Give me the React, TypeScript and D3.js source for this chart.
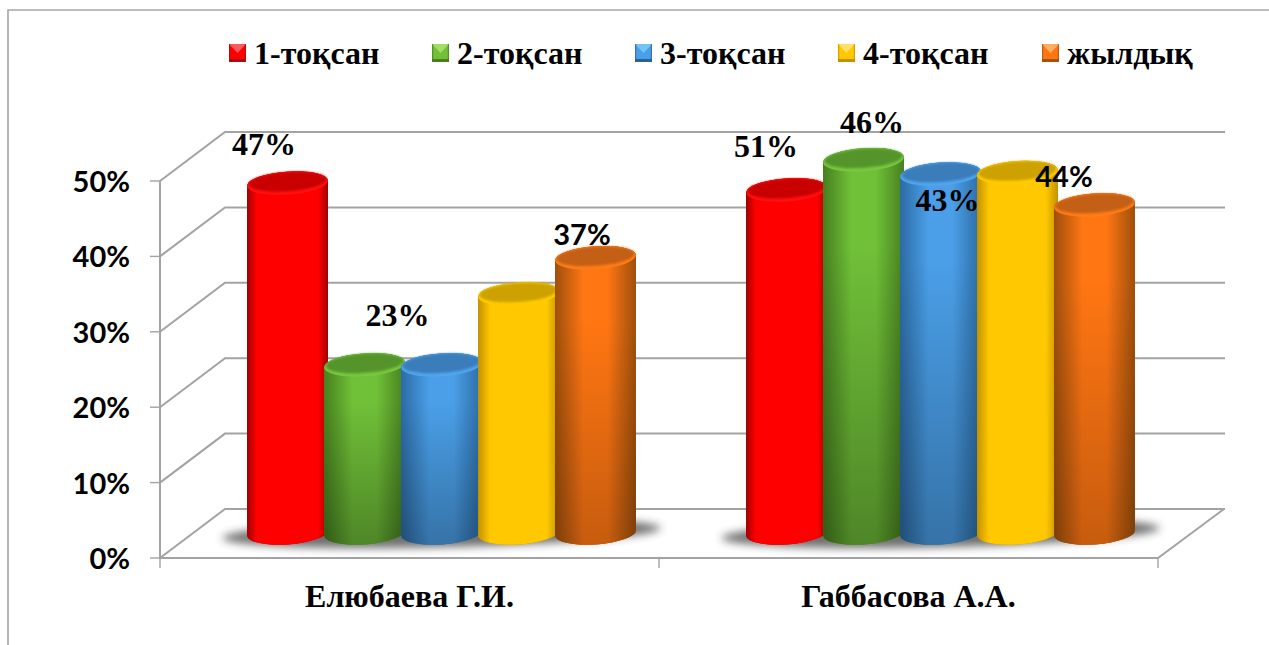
import React from "react";
import * as d3 from "d3";

const categories = ["Елюбаева Г.И.", "Габбасова А.А."];
const seriesNames = ["1-тоқсан", "2-тоқсан", "3-тоқсан", "4-тоқсан", "жылдық"];
const group1Values = [0.464, 0.223, 0.223, 0.317, 0.365];
const group2Values = [0.455, 0.495, 0.476, 0.478, 0.435];
const group1Labels = ["47%", "23%", "", "", "37%"];
const group2Labels = ["51%", "46%", "43%", "", "44%"];
const yTicks = [0, 0.1, 0.2, 0.3, 0.4, 0.5];

const SERIF = "'Liberation Serif', serif";
const SANS = "Lato, 'Open Sans', sans-serif";

// Hand-placed label anchors from the original (centre x, baseline y, font size, family)
const labelPlacement = [
  [[264, 155, 32, SERIF], [397.5, 326, 32, SERIF], null, null, [582, 245, 29, SANS]],
  [[766, 157, 32, SERIF], [872, 133, 32, SERIF], [947.5, 211, 32, SERIF], null, [1064, 187, 29, SANS]],
];

const palette = [
  { body: "#ff0000", edge: "#a00000", top: "#c80000", rim: "#ff1010", fade: 0, soft: 0.12, lgTop: "#ff5a5a", lgBot: "#a50f0f" },
  { body: "#70c038", edge: "#47801f", top: "#559429", rim: "#78c840", fade: 0.3, soft: 0.35, lgTop: "#a4dc64", lgBot: "#4a7e20" },
  { body: "#4a9fe8", edge: "#2c6ba4", top: "#3a7dba", rim: "#4fa6ee", fade: 0.28, soft: 0.35, lgTop: "#74c4fa", lgBot: "#2b6398" },
  { body: "#ffc800", edge: "#c29200", top: "#cda200", rim: "#ffcc00", fade: 0, soft: 0.15, lgTop: "#ffe060", lgBot: "#c49000" },
  { body: "#ff7612", edge: "#9e4f0c", top: "#c45f12", rim: "#ff7d18", fade: 0.22, soft: 0.35, lgTop: "#fbb060", lgBot: "#a9500f" },
];

const W = 1269;
const H = 645;
const FRONT_LEFT = 160;
const FRONT_RIGHT = 1158;
const DEPTH_X = 65;
const DEPTH_Y = 49;
const BAR_DX = 32;
const BAR_DY = 25;
const RX = 40.5;
const RY = 11.5;
const ROT = -4;

const y = d3.scaleLinear().domain([0, 0.5]).range([558, 181]);
const xGroup = d3.scaleBand<string>().domain(categories).range([FRONT_LEFT, FRONT_RIGHT]);
const xInner = d3.scaleBand<string>().domain(seriesNames).range([-192.5, 192.5]);

const groups = [group1Values, group2Values];
const labels = [group1Labels, group2Labels];

function cylinderPath(cx: number, yTop: number, yBottom: number) {
  const a = (ROT * Math.PI) / 180;
  const dx = RX * Math.cos(a);
  const dy = RX * Math.sin(a);
  return [
    `M${cx - dx},${yTop - dy}`,
    `L${cx - dx},${yBottom - dy}`,
    `A${RX},${RY} ${ROT} 0 0 ${cx + dx},${yBottom + dy}`,
    `L${cx + dx},${yTop + dy}`,
    `A${RX},${RY} ${ROT} 0 0 ${cx - dx},${yTop - dy}`,
    "Z",
  ].join(" ");
}

export default function App() {
  const bandMid = (c: string) => (xGroup(c) as number) + xGroup.bandwidth() / 2;
  const legendX = [229, 432, 635, 838, 1042];
  return (
    <svg
      width={W}
      height={H}
      viewBox={`0 0 ${W} ${H}`}
      style={{ position: "absolute", left: 0, top: 0, display: "block" }}
    >
      <defs>
        <filter id="shadowBlur" x="-20%" y="-100%" width="140%" height="300%">
          <feGaussianBlur stdDeviation="4" />
        </filter>
        <filter id="topBlur" x="-10%" y="-30%" width="120%" height="160%">
          <feGaussianBlur stdDeviation="1.1" />
        </filter>
        {palette.map((p, i) => (
          <React.Fragment key={i}>
            <linearGradient id={`body${i}`} x1="0" x2="1" y1="0" y2="0">
              <stop offset="0" stopColor={p.edge} />
              <stop offset={p.soft} stopColor={p.body} />
              <stop offset={1 - p.soft} stopColor={p.body} />
              <stop offset="1" stopColor={p.edge} />
            </linearGradient>
            <linearGradient id={`fade${i}`} x1="0" x2="0" y1="0" y2="1">
              <stop offset="0.25" stopColor="#000" stopOpacity="0" />
              <stop offset="1" stopColor="#000" stopOpacity={p.fade} />
            </linearGradient>
          </React.Fragment>
        ))}
      </defs>

      <rect width={W} height={H} fill="#fff" />

      {/* outer frame */}
      <path d={`M8,${H} L8,10 L${W},10`} fill="none" stroke="#a6a6a6" strokeWidth={1.6} />

      {/* walls and floor */}
      <g fill="none" stroke="#a3a3a3" strokeWidth={2}>
        {yTicks.map((t) => (
          <path
            key={t}
            d={`M${FRONT_LEFT},${y(t)} L${FRONT_LEFT + DEPTH_X},${y(t) - DEPTH_Y} L${FRONT_RIGHT + DEPTH_X + 2},${y(t) - DEPTH_Y}`}
          />
        ))}
        <path d={`M${FRONT_LEFT},${y(0.5)} L${FRONT_LEFT},${y(0)} L${FRONT_RIGHT},${y(0)} L${FRONT_RIGHT + DEPTH_X + 1},${y(0) - DEPTH_Y}`} />
        <g strokeWidth={1.4}>
          {yTicks.map((t) => (
            <line key={t} x1={FRONT_LEFT - 10} x2={FRONT_LEFT} y1={y(t)} y2={y(t)} />
          ))}
          {[FRONT_LEFT, FRONT_LEFT + xGroup.bandwidth(), FRONT_RIGHT].map((x) => (
            <line key={x} x1={x} x2={x} y1={y(0)} y2={y(0) + 10} />
          ))}
        </g>
      </g>

      {/* y tick labels */}
      {yTicks.map((t) => (
        <text
          key={t}
          x={130}
          y={y(t) + 11}
          textAnchor="end"
          fontFamily={SANS}
          fontWeight={700}
          fontSize={29}
          fill="#000"
        >
          {d3.format(".0%")(t)}
        </text>
      ))}

      {/* floor shadows */}
      {categories.map((c) => {
        const mid = bandMid(c) + BAR_DX;
        const sy = y(0) - BAR_DY;
        return (
          <ellipse
            key={c}
            cx={mid}
            cy={sy}
            rx={219}
            ry={14}
            fill="#333"
            opacity={0.7}
            filter="url(#shadowBlur)"
            transform={`rotate(-1.3 ${mid} ${sy})`}
          />
        );
      })}

      {/* cylinders */}
      {categories.map((c, g) =>
        seriesNames.map((s, i) => {
          const cx = bandMid(c) + BAR_DX + (xInner(s) as number) + xInner.bandwidth() / 2;
          const yTop = y(groups[g][i]) - BAR_DY;
          const yBottom = y(0) - BAR_DY;
          const p = palette[i];
          const d = cylinderPath(cx, yTop, yBottom);
          return (
            <g key={c + s}>
              <path d={d} fill={p.edge} />
              <path d={d} fill={`url(#body${i})`} />
              <path d={d} fill={`url(#fade${i})`} />
              <ellipse
                cx={cx}
                cy={yTop}
                rx={RX}
                ry={RY}
                transform={`rotate(${ROT} ${cx} ${yTop})`}
                fill={p.rim}
              />
              <ellipse
                cx={cx}
                cy={yTop - 1.5}
                rx={RX - 1.5}
                ry={RY - 2}
                transform={`rotate(${ROT} ${cx} ${yTop - 1.5})`}
                fill={p.top}
                filter="url(#topBlur)"
              />
            </g>
          );
        })
      )}

      {/* data labels */}
      {labels.map((row, g) =>
        row.map((txt, i) => {
          const pos = labelPlacement[g][i];
          if (!txt || !pos) return null;
          return (
            <text
              key={`${g}-${i}`}
              x={pos[0] as number}
              y={pos[1] as number}
              textAnchor="middle"
              fontFamily={pos[3] as string}
              fontWeight={700}
              fontSize={pos[2] as number}
              fill="#000"
            >
              {txt}
            </text>
          );
        })
      )}

      {/* category labels */}
      {categories.map((c) => (
        <text
          key={c}
          x={bandMid(c)}
          y={607}
          textAnchor="middle"
          fontFamily={SERIF}
          fontWeight={700}
          fontSize={32}
          fill="#000"
        >
          {c}
        </text>
      ))}

      {/* legend */}
      {seriesNames.map((s, i) => {
        const lx = legendX[i];
        const p = palette[i];
        return (
          <g key={s}>
            <rect x={lx} y={44} width={17} height={18} fill={p.body} />
            <path d={`M${lx},44 L${lx + 17},44 L${lx + 8.5},53 Z`} fill={p.lgTop} />
            <rect x={lx} y={59} width={17} height={3} fill={p.lgBot} />
            <rect x={lx} y={44} width={1.2} height={18} fill={p.lgBot} opacity={0.7} />
            <rect x={lx + 15.8} y={44} width={1.2} height={18} fill={p.lgBot} opacity={0.7} />
            <text
              x={lx + 25}
              y={64}
              fontFamily={SERIF}
              fontWeight={700}
              fontSize={32}
              fill="#000"
            >
              {s}
            </text>
          </g>
        );
      })}
    </svg>
  );
}
